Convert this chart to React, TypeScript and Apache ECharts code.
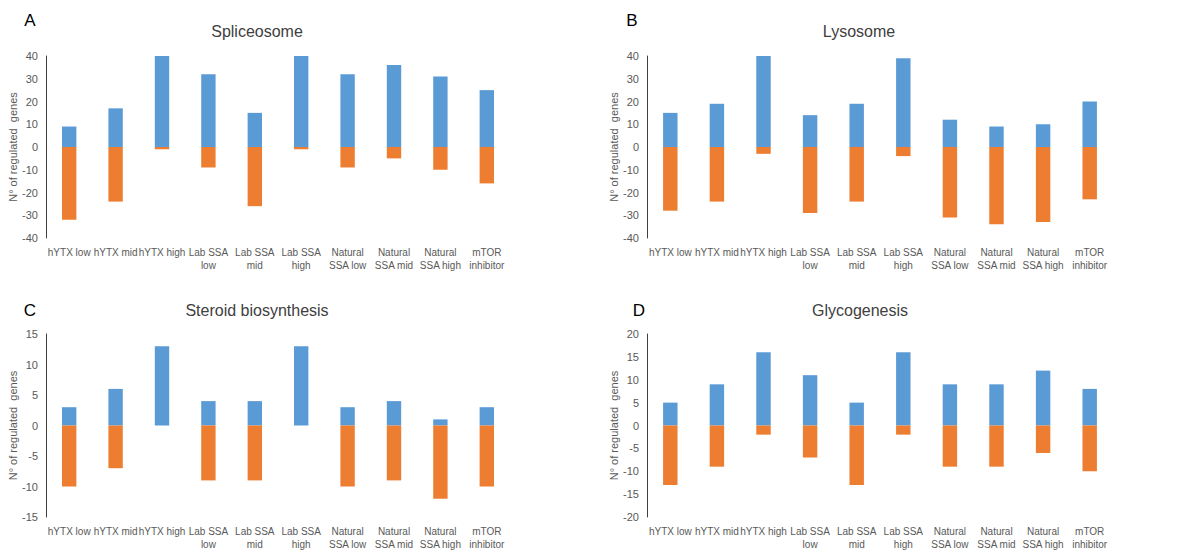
import React, { useEffect, useRef } from "react";
import * as echarts from "echarts";

const categories = [
  "hYTX low",
  "hYTX mid",
  "hYTX high",
  "Lab SSA\nlow",
  "Lab SSA\nmid",
  "Lab SSA\nhigh",
  "Natural\nSSA low",
  "Natural\nSSA mid",
  "Natural\nSSA high",
  "mTOR\ninhibitor",
];

const spliceosomeUp = [9, 17, 40, 32, 15, 40, 32, 36, 31, 25];
const spliceosomeDown = [-32, -24, -1, -9, -26, -1, -9, -5, -10, -16];
const lysosomeUp = [15, 19, 40, 14, 19, 39, 12, 9, 10, 20];
const lysosomeDown = [-28, -24, -3, -29, -24, -4, -31, -34, -33, -23];
const steroidUp = [3, 6, 13, 4, 4, 13, 3, 4, 1, 3];
const steroidDown = [-10, -7, 0, -9, -9, 0, -10, -9, -12, -10];
const glycoUp = [5, 9, 16, 11, 5, 16, 9, 9, 12, 8];
const glycoDown = [-13, -9, -2, -7, -13, -2, -9, -9, -6, -10];

const panelTitles = ["Spliceosome", "Lysosome", "Steroid biosynthesis", "Glycogenesis"];
const panelLetters = ["A", "B", "C", "D"];
const yRanges = [
  { min: -40, max: 40, interval: 10 },
  { min: -40, max: 40, interval: 10 },
  { min: -15, max: 15, interval: 5 },
  { min: -20, max: 20, interval: 5 },
];
const panelData = [
  [spliceosomeUp, spliceosomeDown],
  [lysosomeUp, lysosomeDown],
  [steroidUp, steroidDown],
  [glycoUp, glycoDown],
];

const yAxisName = "N° of regulated  genes";

export default function App() {
  const ref = useRef<HTMLDivElement>(null);
  useEffect(() => {
    if (!ref.current) return;
    const chart = echarts.init(ref.current, undefined, { renderer: "svg" });
    const font = "Liberation Sans, Arial, sans-serif";
    const grids = [
      { left: 46, top: 56, width: 464, height: 182 },
      { left: 647, top: 56, width: 466, height: 182 },
      { left: 46, top: 334, width: 464, height: 184 },
      { left: 647, top: 334, width: 466, height: 184 },
    ];
    const titlePos = [
      { x: 257, y: 31, lx: 30, ly: 20 },
      { x: 859, y: 31, lx: 632, ly: 20 },
      { x: 257, y: 310, lx: 30, ly: 310 },
      { x: 860, y: 310, lx: 639, ly: 310 },
    ];
    const xAxis = grids.map((_, i) => ({
      type: "category",
      gridIndex: i,
      data: categories,
      axisLine: { show: false, onZero: false },
      axisTick: { show: false },
      axisLabel: {
        interval: 0,
        color: "#595959",
        fontSize: 10,
        fontFamily: font,
        lineHeight: 13,
        margin: 8,
      },
    }));
    const yAxis = grids.map((_, i) => ({
      type: "value",
      gridIndex: i,
      min: yRanges[i].min,
      max: yRanges[i].max,
      interval: yRanges[i].interval,
      name: yAxisName,
      nameLocation: "middle",
      nameGap: 27,
      nameTextStyle: { color: "#595959", fontSize: 11, fontFamily: font },
      axisLine: { show: true, lineStyle: { color: "#404040", width: 1 } },
      axisTick: { show: false },
      splitLine: { show: false },
      axisLabel: { color: "#595959", fontSize: 11, fontFamily: font, margin: 8 },
    }));
    const series: any[] = [];
    panelData.forEach((pair, i) => {
      series.push({
        type: "bar",
        xAxisIndex: i,
        yAxisIndex: i,
        stack: "s" + i,
        data: pair[0],
        barWidth: "31%",
        itemStyle: { color: "#5B9BD5" },
      });
      series.push({
        type: "bar",
        xAxisIndex: i,
        yAxisIndex: i,
        stack: "s" + i,
        data: pair[1],
        barWidth: "31%",
        itemStyle: { color: "#ED7D31" },
      });
    });
    const graphic: any[] = [];
    titlePos.forEach((p, i) => {
      graphic.push({
        type: "text",
        x: p.x,
        y: p.y,
        style: {
          text: panelTitles[i],
          fill: "#404040",
          font: `16px ${font}`,
          textAlign: "center",
          textVerticalAlign: "middle",
        },
      });
      graphic.push({
        type: "text",
        x: p.lx,
        y: p.ly,
        style: {
          text: panelLetters[i],
          fill: "#000000",
          font: `17px ${font}`,
          textAlign: "center",
          textVerticalAlign: "middle",
        },
      });
    });
    chart.setOption({
      animation: false,
      backgroundColor: "#ffffff",
      grid: grids,
      xAxis,
      yAxis,
      series,
      graphic,
    });
    return () => chart.dispose();
  }, []);
  return (
    <div
      ref={ref}
      style={{ position: "absolute", left: 0, top: 0, width: 1189, height: 551 }}
    />
  );
}
